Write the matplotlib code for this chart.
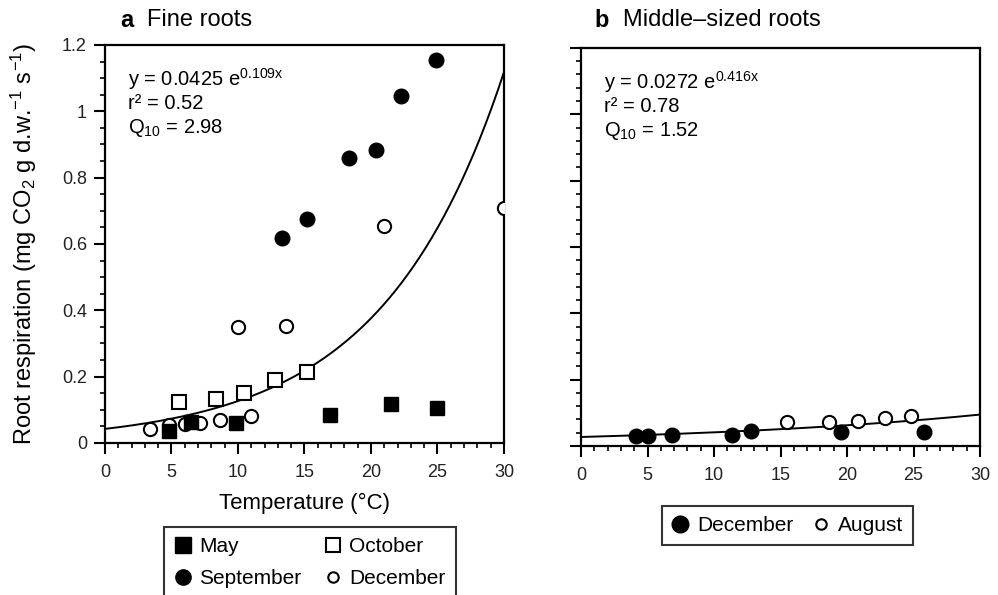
import numpy as np
import matplotlib
matplotlib.use("Agg")
import matplotlib.pyplot as plt
from matplotlib.lines import Line2D
from matplotlib.ticker import MultipleLocator

plt.rcParams['font.family'] = ['Liberation Sans', 'DejaVu Sans']
plt.rcParams['mathtext.default'] = 'regular'

# panel a: fine roots
may_x = [4.83, 6.5, 9.85, 16.9, 21.5, 25.0]
may_y = [0.036, 0.062, 0.060, 0.085, 0.117, 0.106]
oct_x = [5.6, 8.35, 10.43, 12.78, 15.16]
oct_y = [0.123, 0.133, 0.151, 0.189, 0.213]
sep_x = [13.33, 15.2, 18.37, 20.35, 22.25, 24.9]
sep_y = [0.618, 0.676, 0.858, 0.882, 1.046, 1.155]
dec_a_x = [3.35, 4.83, 6.0, 7.14, 8.68, 10.98, 9.97, 13.58, 21.0, 30.0]
dec_a_y = [0.042, 0.055, 0.058, 0.060, 0.070, 0.080, 0.349, 0.353, 0.655, 0.708]
fit_a = (0.0425, 0.109)

# panel b: middle-sized roots
dec_b_x = [4.11, 5.06, 6.81, 11.36, 12.79, 19.55, 25.8]
dec_b_y = [0.030, 0.030, 0.034, 0.034, 0.046, 0.041, 0.042]
aug_x = [15.5, 18.66, 20.79, 22.88, 24.79]
aug_y = [0.073, 0.073, 0.076, 0.083, 0.091]
fit_b = (0.0272, 0.0416)

fig = plt.figure(figsize=(9.98, 5.95), dpi=100)
ax1 = fig.add_axes([0.1052, 0.2555, 0.3998, 0.669])
ax2 = fig.add_axes([0.5822, 0.2504, 0.3998, 0.669])

ms = 10.5
open_kw = dict(linestyle='none', markerfacecolor='white', markeredgecolor='black', markeredgewidth=1.5, zorder=3)
fill_kw = dict(linestyle='none', color='black', zorder=4)

xx = np.linspace(0, 30, 200)
ax1.plot(xx, fit_a[0] * np.exp(fit_a[1] * xx), color='black', lw=1.4, zorder=2)
ax1.plot(oct_x, oct_y, marker='s', markersize=ms - 1, **open_kw)
ax1.plot(dec_a_x, dec_a_y, marker='o', markersize=ms - 1, **open_kw)
ax1.plot(may_x, may_y, marker='s', markersize=ms - 0.5, **fill_kw)
ax1.plot(sep_x, sep_y, marker='o', markersize=ms, **fill_kw)

ax2.plot(xx, fit_b[0] * np.exp(fit_b[1] * xx), color='black', lw=1.4, zorder=2)
ax2.plot(aug_x, aug_y, marker='o', markersize=ms - 1, **open_kw)
ax2.plot(dec_b_x, dec_b_y, marker='o', markersize=ms, **fill_kw)

for ax in (ax1, ax2):
    ax.set_xlim(0, 30)
    ax.set_ylim(0, 1.2)
    ax.xaxis.set_major_locator(MultipleLocator(5))
    ax.xaxis.set_minor_locator(MultipleLocator(1))
    ax.yaxis.set_major_locator(MultipleLocator(0.2))
    ax.tick_params(which='major', direction='out', length=8, width=1.5, labelsize=13, labelcolor='#222222', pad=5)
    ax.tick_params(which='minor', direction='out', length=3.5, width=1.2)
    ax.tick_params(axis='x', which='major', pad=7)
    for sp in ax.spines.values():
        sp.set_linewidth(1.6)

ax1.yaxis.set_minor_locator(MultipleLocator(0.05))
ax2.yaxis.set_minor_locator(MultipleLocator(0.04))
ax1.set_yticks([0, 0.2, 0.4, 0.6, 0.8, 1.0, 1.2])
ax1.set_yticklabels(['0', '0.2', '0.4', '0.6', '0.8', '1', '1.2'])
ax1.set_xticks([0, 5, 10, 15, 20, 25, 30])
ax2.set_xticks([0, 5, 10, 15, 20, 25, 30])
ax2.tick_params(axis='y', labelleft=False)

ax1.set_ylabel('Root respiration (mg CO$_2$ g d.w.$^{-1}$ s$^{-1}$)', fontsize=17)
ax1.yaxis.set_label_coords(-0.165, 0.5)
ax1.set_xlabel('Temperature (°C)', fontsize=16)
ax1.xaxis.set_label_coords(0.5, -0.125)

# panel titles
fig.text(0.120, 0.966, 'a', fontsize=17, fontweight='bold', va='center')
fig.text(0.147, 0.966, 'Fine roots', fontsize=17, va='center')
fig.text(0.596, 0.966, 'b', fontsize=17, fontweight='bold', va='center')
fig.text(0.624, 0.966, 'Middle–sized roots', fontsize=17, va='center')

# fit equations
eq_a = ['y = 0.0425 e$^{0.109x}$', 'r² = 0.52', 'Q$_{10}$ = 2.98']
eq_b = ['y = 0.0272 e$^{0.416x}$', 'r² = 0.78', 'Q$_{10}$ = 1.52']
for ax, lines in ((ax1, eq_a), (ax2, eq_b)):
    for i, t in enumerate(lines):
        ax.text(0.058, 0.915 - i * 0.062, t, transform=ax.transAxes, fontsize=14.5, va='center')

# legends
h_may = Line2D([], [], marker='s', markersize=11, **fill_kw)
h_oct = Line2D([], [], marker='s', markersize=10, **open_kw)
h_sep = Line2D([], [], marker='o', markersize=11, **fill_kw)
h_dec = Line2D([], [], marker='o', markersize=7.5, **open_kw)
leg1 = fig.legend([h_may, h_sep, h_oct, h_dec], ['May', 'September', 'October', 'December'],
                  ncol=2, loc='upper left', bbox_to_anchor=(164 / 998, 1 - 527 / 595),
                  fontsize=15, frameon=True, fancybox=False, edgecolor='black',
                  handlelength=0.8, handletextpad=0.4, columnspacing=1.1,
                  labelspacing=0.6, borderpad=0.5, borderaxespad=0)
leg1.get_frame().set_linewidth(1.5)

h_decb = Line2D([], [], marker='o', markersize=12, **fill_kw)
h_aug = Line2D([], [], marker='o', markersize=7.5, **open_kw)
leg2 = fig.legend([h_decb, h_aug], ['December', 'August'], ncol=2, loc='upper left',
                  bbox_to_anchor=(662 / 998, 1 - 506 / 595), fontsize=15, frameon=True,
                  fancybox=False, edgecolor='black', handlelength=0.8, handletextpad=0.4,
                  columnspacing=0.95, borderpad=0.48, borderaxespad=0)
leg2.get_frame().set_linewidth(1.5)

fig.savefig('out.png', dpi=100)
